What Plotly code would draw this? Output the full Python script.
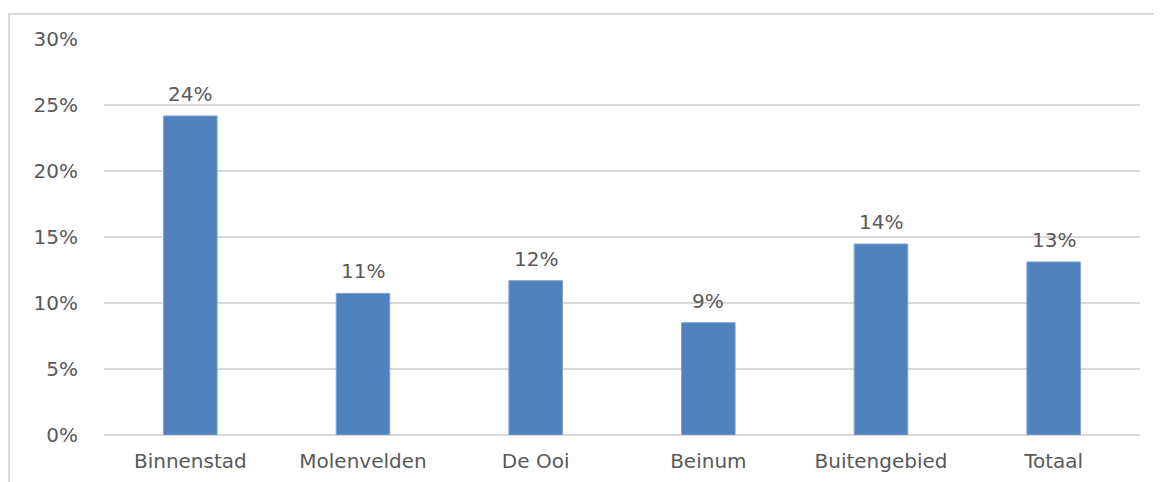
import plotly.graph_objects as go

wijken = ['Binnenstad', 'Molenvelden', 'De Ooi', 'Beinum', 'Buitengebied', 'Totaal']
aandeel = [0.2417, 0.1073, 0.1169, 0.0851, 0.1447, 0.1311]
labels = ['24%', '11%', '12%', '9%', '14%', '13%']
y_ticks = [0, 0.05, 0.10, 0.15, 0.20, 0.25, 0.30]
y_ticktext = ['0%', '5%', '10%', '15%', '20%', '25%', '30%']

grijs = '#595959'
lijn = '#D9D9D9'
font = dict(family='DejaVu Sans', size=20, color=grijs)

fig = go.Figure()
fig.add_trace(
    go.Bar(
        x=wijken,
        y=aandeel,
        marker=dict(color='#4F81BD', line=dict(color='#7FA3D3', width=1)),
        hoverinfo='skip',
    )
)

# datalabels boven de staven
for w, v, t in zip(wijken, aandeel, labels):
    fig.add_annotation(
        x=w, y=v, text=t, showarrow=False,
        yanchor='bottom', yshift=8, font=font,
    )

# kader rond de grafiek
fig.add_shape(
    type='rect', xref='paper', yref='paper',
    x0=-0.0917, x1=1.2, y0=-0.3, y1=1.0631,
    line=dict(color=lijn, width=2), layer='below',
)

# de pagina heeft 8px marge rondom, daarom marges iets kleiner
fig.update_layout(
    width=1162,
    height=482,
    margin=dict(l=96, r=30, t=31, b=55),
    paper_bgcolor='white',
    plot_bgcolor='white',
    bargap=0.69,
    showlegend=False,
    font=font,
    xaxis=dict(
        showgrid=False,
        showline=False,
        ticks='',
        ticklabelstandoff=12,
        tickfont=font,
    ),
    yaxis=dict(
        range=[0, 0.30],
        tickvals=y_ticks,
        ticktext=y_ticktext,
        showgrid=True,
        gridcolor=lijn,
        gridwidth=2,
        zeroline=True,
        zerolinecolor=lijn,
        zerolinewidth=2,
        showline=False,
        ticks='',
        ticklabelstandoff=25,
        tickfont=font,
    ),
)

fig.write_html('out.html')
